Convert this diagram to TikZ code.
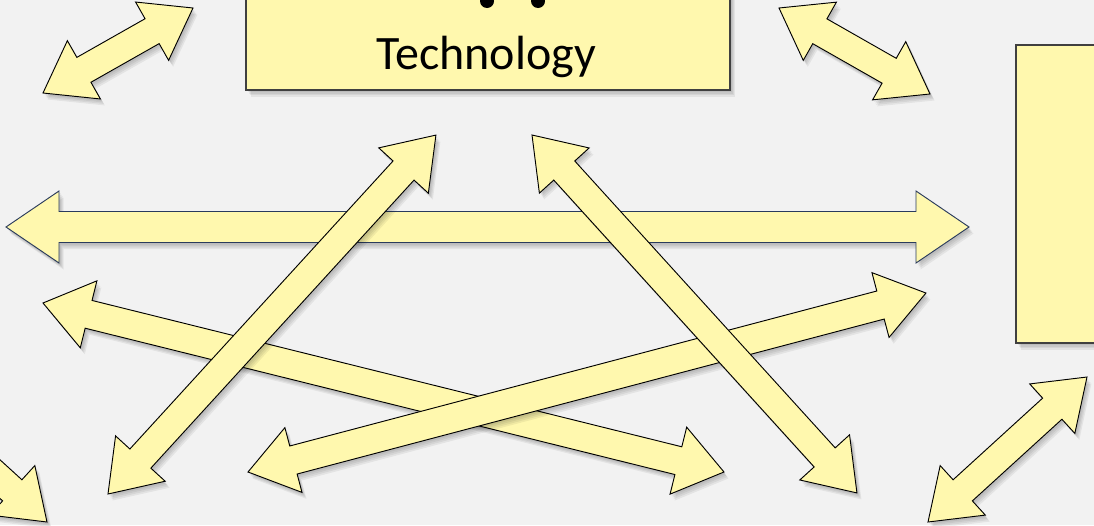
\documentclass[tikz,border=0pt]{standalone}
\usepackage{fontspec}
\setmainfont{Carlito}
\definecolor{bg}{HTML}{F2F2F2}
\definecolor{ayellow}{HTML}{FFF8AE}
\definecolor{navy}{HTML}{2A3B5C}
\definecolor{boxline}{HTML}{404040}
\tikzset{
  arr/.style={fill=ayellow, draw=black, line width=0.7pt, line join=miter},
  harr/.style={fill=ayellow, draw=navy, line width=0.7pt, line join=miter},
  boxstyle/.style={fill=ayellow, draw=boxline, line width=1.1pt},
  shadowfill/.style={fill=black, opacity=0.06},
}
% double arrow: x1 y1 x2 y2 headlength headhalfwidth shafthalfwidth style
\newcommand\darr[8]{%
  \pgfmathsetmacro\ddx{#3-(#1)}%
  \pgfmathsetmacro\ddy{#4-(#2)}%
  \pgfmathsetmacro\dlen{veclen(\ddx,\ddy)}%
  \pgfmathsetmacro\dang{atan2(-\ddy,\ddx)}%
  \pgfmathsetmacro\dback{\dlen-#5}%
  \def\dpath{(0,0) -- (#5,#6) -- (#5,#7) -- (\dback,#7) -- (\dback,#6) -- (\dlen,0) -- (\dback,-#6) -- (\dback,-#7) -- (#5,-#7) -- (#5,-#6) -- cycle}%
  \foreach \sx/\sy in {1.5/2,2.5/3.5,3.5/5,4.5/6.5}{%
    \fill[shadowfill,shift={(#1+\sx,#2+\sy)},rotate=\dang] \dpath;}%
  \draw[#8,shift={(#1,#2)},rotate=\dang] \dpath;%
}
\begin{document}
\begin{tikzpicture}[x=0.75pt,y=-0.75pt]
\fill[bg] (0,0) rectangle (1094,525);
\useasboundingbox (0,0) rectangle (1094,525);
\clip (0,0) rectangle (1094,525);
% boxes with shadows
\foreach \sx/\sy in {1.5/2,2.5/3.5,3.5/5,4.5/6.5}{%
  \fill[shadowfill] (246+\sx,-30+\sy) rectangle (730+\sx,90+\sy);
  \fill[shadowfill] (1016+\sx,45+\sy) rectangle (1120+\sx,343+\sy);}
\draw[boxstyle] (246,-30) rectangle (730,90);
\draw[boxstyle] (1016,45) rectangle (1120,343);
\fill[black] (487,1) circle[radius=7];
\fill[black] (538,1) circle[radius=7];
\node[anchor=base, font=\fontsize{36}{43}\selectfont, inner sep=0pt] (tech) at (486,69.5) {Technology};
% arrows
\darr{-112}{377}{47}{522}{47}{33.5}{14.3}{arr}
\darr{43}{93}{193}{8}{47}{33.5}{14.3}{arr}
\darr{779}{8}{930}{94}{47}{33.5}{14.3}{arr}
\darr{928}{522}{1087}{377}{47}{33.5}{14.3}{arr}
\darr{6}{227}{969}{227}{53}{36}{15.5}{harr}
\darr{43}{303}{724}{472}{47}{34.5}{14.3}{arr}
\darr{248}{472}{926}{293}{47}{33.5}{14.5}{arr}
\darr{108}{494}{436}{135}{48}{33.6}{14.2}{arr}
\darr{532}{135}{857}{493}{48}{33.6}{14.2}{arr}
\end{tikzpicture}
\end{document}
